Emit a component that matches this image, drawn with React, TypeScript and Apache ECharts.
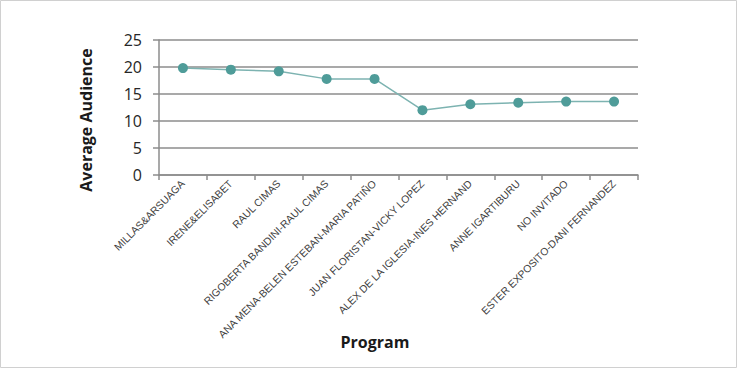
import React, { useEffect, useRef } from "react";
import * as echarts from "echarts";

const programs = [
  "MILLAS&ARSUAGA",
  "IRENE&ELISABET",
  "RAUL CIMAS",
  "RIGOBERTA BANDINI-RAUL CIMAS",
  "ANA MENA-BELEN ESTEBAN-MARIA PATIÑO",
  "JUAN FLORISTAN-VICKY LOPEZ",
  "ALEX DE LA IGLESIA-INES HERNAND",
  "ANNE IGARTIBURU",
  "NO INVITADO",
  "ESTER EXPOSITO-DANI FERNANDEZ",
];

const averageAudience = [19.8, 19.5, 19.2, 17.8, 17.8, 12.0, 13.1, 13.4, 13.6, 13.6];

const yMin = 0;
const yMax = 25;
const yInterval = 5;

const xAxisTitle = "Program";
const yAxisTitle = "Average Audience";

export default function App() {
  const ref = useRef<HTMLDivElement>(null);

  useEffect(() => {
    if (!ref.current) return;
    const chart = echarts.init(ref.current, undefined, { renderer: "svg" });
    chart.setOption({
      animation: false,
      backgroundColor: "#ffffff",
      graphic: [
        {
          type: "rect",
          shape: { x: 0.5, y: 0.5, width: 736, height: 367 },
          style: { fill: "none", stroke: "#d0d0d0", lineWidth: 1 },
          silent: true,
        },
        {
          type: "text",
          x: 86,
          y: 120,
          rotation: Math.PI / 2,
          style: {
            text: yAxisTitle,
            fontFamily: "Open Sans",
            fontWeight: "bold",
            fontSize: 16,
            fill: "#1a1a1a",
            align: "center",
            verticalAlign: "middle",
          },
        },
        {
          type: "text",
          x: 375,
          y: 342,
          style: {
            text: xAxisTitle,
            fontFamily: "Open Sans",
            fontWeight: "bold",
            fontSize: 16,
            fill: "#1a1a1a",
            align: "center",
            verticalAlign: "middle",
          },
        },
      ],
      grid: { left: 159, right: 99, top: 40, bottom: 193 },
      xAxis: {
        type: "category",
        data: programs,
        boundaryGap: true,
        axisLine: { show: true, lineStyle: { color: "#8c8c8c", width: 1.5 } },
        axisTick: { show: true, length: 5, lineStyle: { color: "#8c8c8c", width: 1.5 } },
        axisLabel: {
          rotate: 45,
          interval: 0,
          margin: 7,
          fontFamily: "Liberation Sans",
          fontSize: 10.4,
          color: "#404040",
        },
      },
      yAxis: {
        type: "value",
        min: yMin,
        max: yMax,
        interval: yInterval,
        axisLine: { show: true, lineStyle: { color: "#8c8c8c", width: 1.5 } },
        axisTick: { show: true, length: 6, lineStyle: { color: "#8c8c8c", width: 1.5 } },
        axisLabel: {
          margin: 17,
          fontFamily: "Open Sans",
          fontSize: 16,
          color: "#262626",
        },
        splitLine: { show: true, lineStyle: { color: "#8c8c8c", width: 1.5 } },
      },
      series: [
        {
          type: "line",
          data: averageAudience,
          symbol: "circle",
          symbolSize: 10,
          lineStyle: { color: "#7db3b1", width: 1.5 },
          itemStyle: { color: "#4f9c99" },
        },
      ],
    });
    return () => chart.dispose();
  }, []);

  return (
    <div
      ref={ref}
      style={{ position: "fixed", left: 0, top: 0, width: 737, height: 368 }}
    />
  );
}
